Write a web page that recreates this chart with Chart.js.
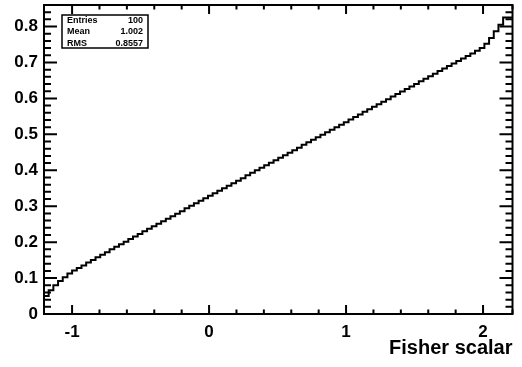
<!DOCTYPE html>
<html>
<head>
<meta charset="utf-8">
<script src="https://cdn.jsdelivr.net/npm/chart.js@4.4.0/dist/chart.umd.min.js"></script>
<style>
  html, body { margin: 0; padding: 0; background: #fff; }
  #caixa { position: relative; width: 522px; height: 367px; }
</style>
</head>
<body>
<div id="caixa"><canvas id="grafico" width="522" height="367"></canvas></div>
<script>
// Faixa do histograma (100 bins)
const xMin = -1.205;
const xMax = 2.215;
const yMax = 0.86;

// Conteúdo de cada bin
const binCounts = [
  0.030, 0.050, 0.066, 0.080, 0.092, 0.102, 0.113, 0.121, 0.128, 0.135,
  0.143, 0.150, 0.158, 0.165, 0.172, 0.180, 0.187, 0.194, 0.201, 0.209,
  0.216, 0.223, 0.230, 0.237, 0.244, 0.251, 0.258, 0.265, 0.272, 0.279,
  0.286, 0.294, 0.301, 0.308, 0.315, 0.322, 0.329, 0.336, 0.343, 0.350,
  0.357, 0.364, 0.371, 0.378, 0.386, 0.393, 0.400, 0.407, 0.414, 0.421,
  0.428, 0.435, 0.442, 0.449, 0.456, 0.463, 0.471, 0.478, 0.485, 0.492,
  0.499, 0.506, 0.513, 0.520, 0.527, 0.534, 0.541, 0.548, 0.555, 0.563,
  0.570, 0.577, 0.584, 0.591, 0.598, 0.605, 0.612, 0.619, 0.626, 0.633,
  0.640, 0.648, 0.655, 0.662, 0.669, 0.676, 0.683, 0.690, 0.697, 0.704,
  0.711, 0.718, 0.725, 0.733, 0.740, 0.752, 0.768, 0.787, 0.805, 0.825
];

// Marcas com rótulo
const xMajorLabels = [-1, 0, 1, 2];
const yMajorLabels = [0, 0.1, 0.2, 0.3, 0.4, 0.5, 0.6, 0.7, 0.8];
const xStep = 0.2;
const yStep = 0.02;

// Caixa de estatísticas
const statsNames = ["Entries", "Mean", "RMS"];
const statsValues = ["100", "1.002", "0.8557"];
const xTitle = "Fisher scalar";

const FONTE = "'Liberation Sans', Arial, Helvetica, sans-serif";

// Bordas dos bins -> pontos do degrau
const nBins = binCounts.length;
const larguraBin = (xMax - xMin) / nBins;
const pontos = [];
for (let i = 0; i <= nBins; i++) {
  pontos.push({ x: xMin + i * larguraBin, y: binCounts[Math.min(i, nBins - 1)] });
}

function ehMaior(lista, v, casas) {
  const f = Math.pow(10, casas);
  const r = Math.round(v * f) / f;
  return lista.indexOf(r) >= 0 ? r : null;
}

// Moldura, marcas internas e caixa de estatísticas (estilo ROOT)
const molduraPlugin = {
  id: "moldura",
  afterDatasetsDraw(chart) {
    const { ctx, chartArea: a, scales } = chart;
    const x = scales.x, y = scales.y;
    ctx.save();
    ctx.strokeStyle = "#000";
    ctx.lineWidth = 2;
    ctx.beginPath();
    x.ticks.forEach(t => {
      const px = x.getPixelForValue(t.value);
      const len = ehMaior(xMajorLabels, t.value, 3) !== null ? 9 : 4.5;
      ctx.moveTo(px, a.bottom); ctx.lineTo(px, a.bottom - len);
      ctx.moveTo(px, a.top); ctx.lineTo(px, a.top + len);
    });
    y.ticks.forEach(t => {
      const py = y.getPixelForValue(t.value);
      const len = ehMaior(yMajorLabels, t.value, 2) !== null ? 13 : 7;
      ctx.moveTo(a.left, py); ctx.lineTo(a.left + len, py);
      ctx.moveTo(a.right, py); ctx.lineTo(a.right - len, py);
    });
    ctx.stroke();
    ctx.strokeRect(a.left, a.top, a.right - a.left, a.bottom - a.top);

    // caixa de estatísticas
    const bx = a.left + 18, by = a.top + 10, bw = 86, bh = 33;
    ctx.fillStyle = "#fff";
    ctx.fillRect(bx, by, bw, bh);
    ctx.lineWidth = 1.5;
    ctx.strokeRect(bx, by, bw, bh);
    ctx.fillStyle = "#000";
    ctx.font = "bold 9px " + FONTE;
    ctx.textBaseline = "alphabetic";
    statsNames.forEach((nome, i) => {
      const ty = by + 8 + i * 11.3;
      ctx.textAlign = "left";
      ctx.fillText(nome, bx + 5, ty);
      ctx.textAlign = "right";
      ctx.fillText(statsValues[i], bx + bw - 5, ty);
    });
    ctx.restore();
  }
};

new Chart(document.getElementById("grafico"), {
  type: "line",
  data: {
    datasets: [{
      data: pontos,
      stepped: "after",
      borderColor: "#000",
      borderWidth: 2,
      pointRadius: 0,
      fill: false
    }]
  },
  options: {
    responsive: false,
    animation: false,
    devicePixelRatio: 1,
    layout: { padding: { left: 0, right: 9.5, top: 5, bottom: 0 } },
    plugins: { legend: { display: false }, tooltip: { enabled: false } },
    scales: {
      x: {
        type: "linear",
        min: xMin,
        max: xMax,
        grid: { display: false, drawTicks: false },
        border: { display: false },
        ticks: {
          stepSize: xStep,
          maxTicksLimit: 100,
          autoSkip: false,
          maxRotation: 0,
          padding: 8,
          color: "#000",
          font: { family: FONTE, size: 17, weight: "bold" },
          callback: v => {
            const r = ehMaior(xMajorLabels, v, 3);
            return r !== null ? String(r) : "";
          }
        },
        title: {
          display: true,
          text: xTitle,
          align: "end",
          color: "#000",
          padding: { top: 0, bottom: 7 },
          font: { family: FONTE, size: 20, weight: "bold" }
        },
        afterFit: s => { s.height = 53; s.paddingLeft = 0; s.paddingRight = 0; }
      },
      y: {
        type: "linear",
        min: 0,
        max: yMax,
        grid: { display: false, drawTicks: false },
        border: { display: false },
        ticks: {
          stepSize: yStep,
          maxTicksLimit: 100,
          autoSkip: false,
          padding: 6,
          color: "#000",
          font: { family: FONTE, size: 17, weight: "bold" },
          callback: v => {
            const r = ehMaior(yMajorLabels, v, 2);
            return r !== null ? String(r) : "";
          }
        },
        afterFit: s => { s.width = 44; s.paddingTop = 0; s.paddingBottom = 0; }
      }
    }
  },
  plugins: [molduraPlugin]
});
</script>
</body>
</html>
